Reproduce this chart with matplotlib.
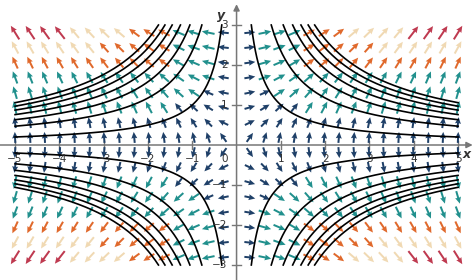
import matplotlib
matplotlib.use("Agg")
import matplotlib.pyplot as plt
import numpy as np

# hyperbola constants xy = c drawn in every quadrant
curve_c = [1.0, 2.35, 3.16, 3.8, 4.36, 4.85, 5.29]

# arrow grid (absolute positions, mirrored into all quadrants)
col_x = [0.3, 0.64, 0.97, 1.31, 1.64, 1.98, 2.31, 2.65, 2.99, 3.32, 3.66, 3.99, 4.33, 4.66, 5.0]
row_y = [0.19, 0.56, 0.94, 1.31, 1.69, 2.06, 2.44, 2.81]

# |x| where the arrow colour steps up: navy->teal, teal->orange, orange->beige, beige->red
row_edges = [
    [9, 9, 9, 9],
    [9, 9, 9, 9],
    [1.5, 9, 9, 9],
    [0.8, 9, 9, 9],
    [0.45, 9, 9, 9],
    [0.45, 1.55, 9, 9],
    [0.45, 1.55, 3.0, 9],
    [0.45, 1.55, 2.6, 3.7],
]
level_colors = ["#1f4068", "#21908d", "#e0692c", "#f0d9b3", "#bf3a50"]
level_len = [11, 13, 13, 14, 16]

x_ticks = [-5, -4, -3, -2, -1, 1, 2, 3, 4, 5]
y_ticks = [-3, -2, -1, 1, 2, 3]

fig = plt.figure(figsize=(4.74, 2.8), dpi=100)
ax = fig.add_axes([0, 0, 1, 1])
ax.set_xlim(-5.34, 5.36)
ax.set_ylim(-3.375, 3.625)

X, Y, U, V, C = [], [], [], [], []
for sy in (1, -1):
    for j, yy in enumerate(row_y):
        for sx in (1, -1):
            for xx in col_x:
                lev = sum(xx > e for e in row_edges[j])
                x0, y0 = sx * xx, sy * yy
                s = np.sign(x0 * y0)
                u, v = s * y0, s * x0
                n = np.hypot(u, v)
                X.append(x0)
                Y.append(y0)
                U.append(u / n * level_len[lev])
                V.append(v / n * level_len[lev])
                C.append(level_colors[lev])

ax.quiver(X, Y, U, V, color=C, angles="xy", scale_units="dots", scale=1,
          pivot="middle", width=0.0042, headwidth=3.0, headlength=3.3,
          headaxislength=3.0, zorder=2)

for c in curve_c:
    xs = np.linspace(c / 3.0, 5.0, 300)
    for sx in (1, -1):
        for sy in (1, -1):
            ax.plot(sx * xs, sy * c / xs, color="black", lw=1.2, zorder=3)

# axes with arrow heads
ax.annotate("", xy=(5.33, 0), xytext=(-5.4, 0),
            arrowprops=dict(arrowstyle="-|>", color="#777777", lw=1.1,
                            mutation_scale=9, shrinkA=0, shrinkB=0), zorder=1)
ax.annotate("", xy=(0, 3.52), xytext=(0, -3.4),
            arrowprops=dict(arrowstyle="-|>", color="#777777", lw=1.1,
                            mutation_scale=9, shrinkA=0, shrinkB=0), zorder=1)
for s in ax.spines.values():
    s.set_visible(False)
ax.set_xticks([])
ax.set_yticks([])

tx = 0.1
ty = 0.09
for t in x_ticks:
    ax.plot([t, t], [-ty, ty], color="#777777", lw=1.0, zorder=1)
    ax.text(t, -0.22, "\u2212%d" % -t if t < 0 else str(t), ha="center", va="top",
            fontsize=7.5, color="#333333", zorder=4)
for t in y_ticks:
    ax.plot([-tx, tx], [t, t], color="#777777", lw=1.0, zorder=1)
    ax.text(-0.2, t, "\u2212%d" % -t if t < 0 else str(t), ha="right", va="center",
            fontsize=7.5, color="#333333", zorder=4)
ax.text(-0.2, -0.22, "0", ha="right", va="top", fontsize=7.5, color="#333333")
ax.text(-0.36, 3.25, "y", ha="center", va="center", fontsize=9,
        style="italic", fontweight="bold", color="#333333")
ax.text(5.2, -0.25, "x", ha="center", va="center", fontsize=9,
        style="italic", fontweight="bold", color="#333333")

fig.savefig("out.png", dpi=100)
